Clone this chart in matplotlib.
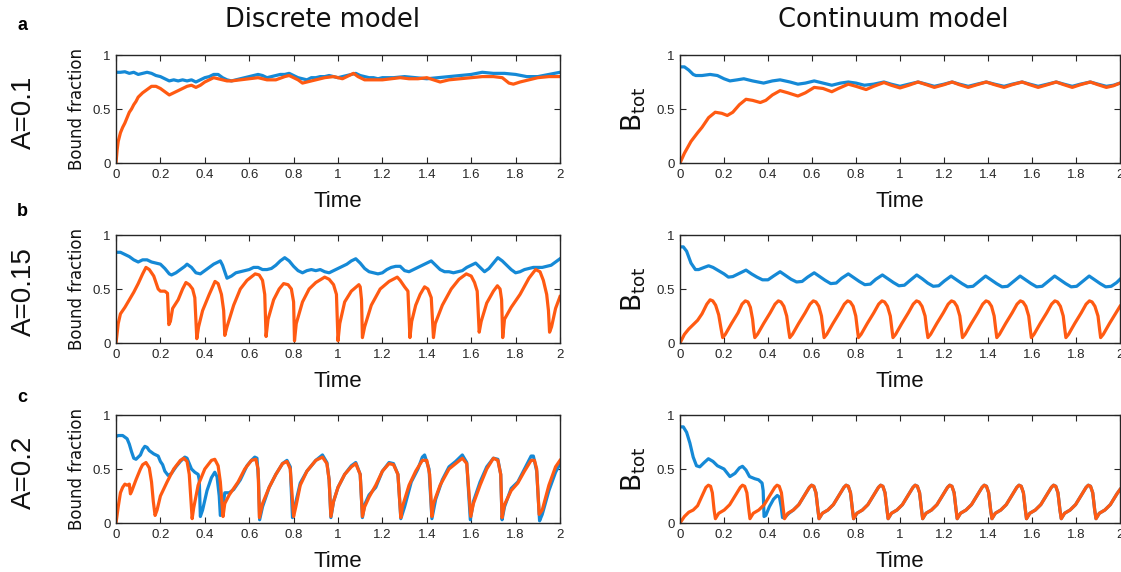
import numpy as np
import matplotlib
matplotlib.use('Agg')
import matplotlib.pyplot as plt

BLUE = '#1589d6'
ORANGE = '#ff5a12'

# ---- data: (time, value) pairs ----
a_disc_blue = [(0,0.84),(0.02,0.84),(0.04,0.845),(0.06,0.83),(0.08,0.84),(0.1,0.82),(0.12,0.83),(0.14,0.84),(0.16,0.83),(0.18,0.81),
    (0.2,0.80),(0.22,0.78),(0.24,0.76),(0.26,0.77),(0.28,0.76),(0.3,0.77),(0.32,0.76),(0.34,0.77),(0.36,0.75),(0.38,0.77),
    (0.4,0.79),(0.42,0.80),(0.44,0.82),(0.46,0.82),(0.48,0.79),(0.5,0.77),(0.52,0.76),(0.54,0.77),(0.56,0.78),(0.58,0.79),
    (0.6,0.80),(0.62,0.81),(0.64,0.82),(0.66,0.81),(0.68,0.79),(0.7,0.80),(0.72,0.81),(0.74,0.82),(0.76,0.82),(0.78,0.83),
    (0.8,0.81),(0.82,0.79),(0.84,0.78),(0.86,0.77),(0.88,0.79),(0.9,0.79),(0.92,0.80),(0.94,0.80),(0.96,0.81),(0.98,0.80),
    (1.0,0.79),(1.02,0.80),(1.04,0.81),(1.06,0.82),(1.08,0.83),(1.1,0.81),(1.12,0.80),(1.14,0.79),(1.16,0.79),(1.18,0.78),
    (1.2,0.79),(1.25,0.79),(1.3,0.80),(1.35,0.79),(1.4,0.78),(1.45,0.79),(1.5,0.80),(1.55,0.81),(1.6,0.82),(1.65,0.84),
    (1.7,0.83),(1.75,0.83),(1.8,0.82),(1.85,0.80),(1.9,0.80),(1.95,0.82),(2.0,0.84)]
a_disc_orange = [(0,0.0),(0.005,0.12),(0.01,0.2),(0.02,0.28),(0.03,0.33),(0.04,0.37),(0.05,0.42),(0.06,0.47),(0.07,0.50),(0.08,0.54),
    (0.09,0.57),(0.1,0.61),(0.12,0.65),(0.14,0.68),(0.16,0.71),(0.18,0.71),(0.2,0.69),(0.22,0.66),(0.24,0.63),(0.26,0.65),
    (0.28,0.67),(0.3,0.69),(0.32,0.71),(0.34,0.72),(0.36,0.70),(0.38,0.72),(0.4,0.75),(0.42,0.77),(0.44,0.79),(0.46,0.78),
    (0.48,0.77),(0.5,0.76),(0.52,0.76),(0.56,0.77),(0.6,0.78),(0.64,0.79),(0.68,0.77),(0.72,0.77),(0.76,0.80),(0.78,0.81),
    (0.8,0.79),(0.82,0.77),(0.84,0.74),(0.86,0.75),(0.9,0.77),(0.94,0.79),(0.98,0.80),(1.02,0.78),(1.05,0.81),(1.07,0.83),
    (1.09,0.80),(1.12,0.77),(1.16,0.77),(1.2,0.77),(1.24,0.78),(1.28,0.79),(1.32,0.78),(1.36,0.78),(1.4,0.79),(1.43,0.77),
    (1.46,0.75),(1.5,0.77),(1.55,0.78),(1.6,0.79),(1.65,0.80),(1.7,0.80),(1.74,0.79),(1.77,0.74),(1.79,0.73),(1.82,0.75),
    (1.86,0.77),(1.9,0.79),(1.95,0.80),(2.0,0.80)]

a_cont_blue = [(0,0.89),(0.02,0.89),(0.04,0.86),(0.06,0.82),(0.072,0.81),(0.1,0.81),(0.137,0.82),(0.17,0.81),(0.2,0.78),(0.227,0.76),
    (0.26,0.77),(0.29,0.78),(0.33,0.76),(0.38,0.74),(0.42,0.76),(0.455,0.77),(0.5,0.75),(0.536,0.73),(0.57,0.74),(0.61,0.76),
    (0.65,0.74),(0.69,0.72),(0.73,0.74),(0.765,0.75),(0.8,0.74),(0.838,0.72),(0.88,0.73),(0.927,0.75),(0.96,0.73),(1.0,0.71),
    (1.04,0.73),(1.082,0.75),(1.12,0.73),(1.156,0.71),(1.2,0.73),(1.237,0.75),(1.27,0.73),(1.31,0.71),(1.35,0.73),(1.392,0.75),
    (1.43,0.73),(1.473,0.71),(1.51,0.73),(1.555,0.75),(1.59,0.73),(1.628,0.71),(1.67,0.73),(1.71,0.75),(1.745,0.73),(1.783,0.71),
    (1.82,0.73),(1.865,0.75),(1.9,0.73),(1.938,0.71),(1.97,0.72),(2.0,0.74)]
a_cont_orange = [(0,0.0),(0.02,0.09),(0.05,0.20),(0.08,0.28),(0.1,0.33),(0.13,0.42),(0.16,0.47),(0.19,0.46),(0.215,0.44),(0.24,0.47),
    (0.27,0.54),(0.3,0.59),(0.33,0.58),(0.365,0.56),(0.39,0.58),(0.42,0.63),(0.455,0.67),(0.49,0.65),(0.536,0.62),(0.57,0.65),
    (0.61,0.70),(0.65,0.69),(0.69,0.66),(0.72,0.69),(0.765,0.73),(0.8,0.71),(0.846,0.68),(0.88,0.71),(0.927,0.745),(0.96,0.72),
    (1.0,0.695),(1.04,0.72),(1.082,0.75),(1.12,0.725),(1.156,0.70),(1.2,0.725),(1.237,0.75),(1.27,0.725),(1.31,0.70),(1.35,0.725),
    (1.392,0.75),(1.43,0.725),(1.473,0.70),(1.51,0.725),(1.555,0.75),(1.59,0.725),(1.628,0.70),(1.67,0.725),(1.71,0.75),(1.745,0.725),
    (1.783,0.70),(1.82,0.725),(1.865,0.75),(1.9,0.725),(1.938,0.70),(1.97,0.715),(2.0,0.74)]

b_disc_blue = [(0,0.84),(0.02,0.84),(0.04,0.82),(0.06,0.80),(0.08,0.77),(0.1,0.75),(0.12,0.77),(0.14,0.77),(0.16,0.75),(0.18,0.74),
    (0.2,0.73),(0.22,0.69),(0.24,0.64),(0.25,0.63),(0.27,0.65),(0.29,0.68),(0.31,0.71),(0.32,0.73),(0.34,0.70),(0.36,0.65),
    (0.38,0.64),(0.4,0.67),(0.42,0.70),(0.44,0.73),(0.47,0.76),(0.48,0.72),(0.5,0.60),(0.52,0.62),(0.54,0.65),(0.56,0.66),
    (0.58,0.67),(0.6,0.68),(0.62,0.70),(0.64,0.70),(0.66,0.68),(0.68,0.68),(0.7,0.69),(0.72,0.72),(0.74,0.76),(0.76,0.79),
    (0.78,0.76),(0.8,0.71),(0.82,0.67),(0.84,0.65),(0.86,0.67),(0.88,0.68),(0.9,0.67),(0.92,0.68),(0.94,0.66),(0.96,0.65),
    (0.98,0.67),(1.0,0.69),(1.02,0.71),(1.04,0.73),(1.06,0.76),(1.08,0.78),(1.1,0.74),(1.12,0.69),(1.14,0.66),(1.16,0.65),
    (1.18,0.64),(1.2,0.65),(1.22,0.68),(1.24,0.70),(1.26,0.71),(1.28,0.71),(1.3,0.67),(1.32,0.66),(1.34,0.68),(1.36,0.70),
    (1.38,0.72),(1.4,0.74),(1.42,0.76),(1.44,0.72),(1.46,0.68),(1.48,0.66),(1.5,0.66),(1.52,0.65),(1.54,0.66),(1.56,0.67),
    (1.58,0.70),(1.6,0.72),(1.62,0.74),(1.64,0.70),(1.66,0.66),(1.68,0.69),(1.7,0.74),(1.72,0.79),(1.74,0.76),(1.76,0.72),
    (1.78,0.68),(1.8,0.65),(1.82,0.66),(1.84,0.68),(1.86,0.69),(1.88,0.70),(1.9,0.70),(1.92,0.70),(1.94,0.71),(1.96,0.72),
    (1.98,0.75),(2.0,0.78)]
b_disc_orange = [(0,0.0),(0.01,0.18),(0.02,0.27),(0.04,0.33),(0.06,0.40),(0.08,0.47),(0.1,0.55),(0.12,0.64),(0.135,0.70),(0.15,0.68),
    (0.17,0.62),(0.19,0.50),(0.2,0.48),(0.22,0.48),(0.232,0.46),(0.238,0.17),(0.245,0.20),(0.255,0.32),(0.28,0.40),(0.3,0.50),
    (0.315,0.56),(0.33,0.54),(0.345,0.50),(0.355,0.42),(0.364,0.04),(0.372,0.15),(0.39,0.30),(0.42,0.45),(0.446,0.57),(0.46,0.55),
    (0.475,0.45),(0.485,0.30),(0.49,0.07),(0.5,0.15),(0.53,0.35),(0.56,0.50),(0.59,0.58),(0.627,0.64),(0.645,0.63),(0.66,0.58),
    (0.67,0.45),(0.676,0.06),(0.685,0.22),(0.71,0.40),(0.735,0.50),(0.755,0.55),(0.775,0.54),(0.79,0.50),(0.8,0.38),(0.804,0.02),
    (0.812,0.18),(0.84,0.38),(0.87,0.50),(0.9,0.56),(0.94,0.61),(0.96,0.59),(0.98,0.54),(0.993,0.45),(1.0,0.02),(1.008,0.18),
    (1.03,0.38),(1.06,0.48),(1.094,0.54),(1.1,0.52),(1.106,0.40),(1.11,0.05),(1.12,0.15),(1.15,0.35),(1.19,0.50),(1.23,0.57),
    (1.267,0.61),(1.28,0.58),(1.3,0.52),(1.315,0.48),(1.324,0.05),(1.332,0.20),(1.35,0.35),(1.37,0.45),(1.39,0.52),(1.405,0.50),
    (1.42,0.42),(1.43,0.05),(1.438,0.18),(1.47,0.35),(1.51,0.50),(1.545,0.59),(1.578,0.64),(1.6,0.62),(1.615,0.56),(1.627,0.48),
    (1.636,0.10),(1.645,0.20),(1.67,0.37),(1.7,0.48),(1.718,0.53),(1.73,0.50),(1.737,0.40),(1.742,0.05),(1.75,0.22),(1.78,0.33),
    (1.82,0.45),(1.86,0.60),(1.89,0.68),(1.91,0.66),(1.925,0.58),(1.94,0.45),(1.948,0.30),(1.953,0.10),(1.962,0.15),(1.98,0.32),
    (2.0,0.43)]

b_cont_blue = [(0,0.89),(0.015,0.89),(0.03,0.85),(0.05,0.74),(0.07,0.68),(0.085,0.68),(0.11,0.70),(0.13,0.715),(0.15,0.70),(0.175,0.67),
    (0.2,0.64),(0.22,0.61),(0.24,0.615),(0.27,0.645),(0.3,0.675),(0.325,0.64),(0.35,0.61),(0.375,0.585),(0.4,0.585),(0.425,0.62),
    (0.455,0.66),(0.48,0.625),(0.505,0.59),(0.53,0.565),(0.555,0.57),(0.58,0.61),(0.61,0.65),(0.635,0.615),(0.66,0.58),(0.685,0.55),
    (0.71,0.555),(0.735,0.60),(0.765,0.64),(0.79,0.605),(0.815,0.57),(0.84,0.54),(0.865,0.545),(0.89,0.59),(0.92,0.63),(0.945,0.595),
    (0.97,0.56),(0.995,0.53),(1.02,0.535),(1.046,0.58),(1.076,0.63),(1.101,0.595),(1.126,0.555),(1.151,0.525),(1.176,0.53),(1.202,0.575),
    (1.232,0.62),(1.257,0.585),(1.282,0.55),(1.307,0.52),(1.332,0.525),(1.359,0.57),(1.389,0.62),(1.414,0.585),(1.439,0.55),(1.464,0.52),
    (1.489,0.525),(1.516,0.57),(1.546,0.62),(1.571,0.585),(1.596,0.55),(1.621,0.52),(1.646,0.525),(1.673,0.57),(1.703,0.62),(1.728,0.585),
    (1.753,0.55),(1.778,0.52),(1.803,0.525),(1.83,0.57),(1.86,0.62),(1.885,0.585),(1.91,0.55),(1.935,0.52),(1.96,0.525),(1.985,0.56),
    (2.0,0.59)]
b_cont_orange = [(0,0.0),(0.02,0.08),(0.04,0.13),(0.06,0.17),(0.08,0.21),(0.1,0.27),(0.122,0.36),(0.137,0.40),(0.149,0.39),(0.162,0.35),
    (0.176,0.26),(0.186,0.14),(0.194,0.05),
    (0.206,0.08),(0.234,0.18),(0.264,0.28),(0.282,0.36),(0.297,0.39),(0.309,0.38),(0.32,0.33),(0.33,0.22),(0.335,0.12),(0.34,0.05),
    (0.352,0.08),(0.38,0.18),(0.41,0.28),(0.432,0.36),(0.447,0.39),(0.459,0.38),(0.472,0.34),(0.485,0.25),(0.493,0.13),(0.499,0.05),
    (0.511,0.08),(0.539,0.18),(0.569,0.28),(0.591,0.36),(0.606,0.39),(0.618,0.38),(0.631,0.34),(0.643,0.25),(0.65,0.13),(0.655,0.05),
    (0.667,0.08),(0.695,0.18),(0.725,0.28),(0.747,0.36),(0.762,0.39),(0.774,0.38),(0.787,0.34),(0.799,0.25),(0.806,0.13),(0.811,0.05),
    (0.823,0.08),(0.851,0.18),(0.881,0.28),(0.903,0.36),(0.918,0.39),(0.93,0.38),(0.943,0.34),(0.956,0.25),(0.963,0.13),(0.968,0.05),
    (0.98,0.08),(1.008,0.18),(1.038,0.28),(1.06,0.36),(1.075,0.39),(1.087,0.38),(1.1,0.34),(1.114,0.25),(1.121,0.13),(1.127,0.05),
    (1.139,0.08),(1.167,0.18),(1.197,0.28),(1.219,0.36),(1.234,0.39),(1.246,0.38),(1.259,0.34),(1.272,0.25),(1.279,0.13),(1.284,0.05),
    (1.296,0.08),(1.324,0.18),(1.354,0.28),(1.376,0.36),(1.391,0.39),(1.403,0.38),(1.416,0.34),(1.428,0.25),(1.435,0.13),(1.44,0.05),
    (1.452,0.08),(1.48,0.18),(1.51,0.28),(1.532,0.36),(1.547,0.39),(1.559,0.38),(1.572,0.34),(1.585,0.25),(1.592,0.13),(1.597,0.05),
    (1.609,0.08),(1.637,0.18),(1.667,0.28),(1.689,0.36),(1.704,0.39),(1.716,0.38),(1.729,0.34),(1.742,0.25),(1.749,0.13),(1.754,0.05),
    (1.766,0.08),(1.794,0.18),(1.824,0.28),(1.846,0.36),(1.861,0.39),(1.873,0.38),(1.886,0.34),(1.9,0.25),(1.907,0.13),(1.912,0.05),
    (1.924,0.08),(1.952,0.18),(1.982,0.28),(2.0,0.34)]

c_disc_blue = [(0,0.80),(0.01,0.81),(0.03,0.81),(0.05,0.78),(0.06,0.73),(0.07,0.66),(0.08,0.60),(0.09,0.59),(0.11,0.63),(0.12,0.68),
    (0.13,0.71),(0.14,0.70),(0.15,0.67),(0.17,0.64),(0.19,0.62),(0.2,0.57),(0.21,0.54),(0.22,0.48),(0.235,0.44),(0.25,0.46),
    (0.27,0.52),(0.29,0.57),(0.31,0.61),(0.32,0.60),(0.33,0.55),(0.34,0.50),(0.355,0.47),(0.37,0.45),(0.375,0.40),(0.38,0.06),
    (0.39,0.12),(0.41,0.30),(0.43,0.42),(0.445,0.47),(0.455,0.43),(0.465,0.25),(0.47,0.07),(0.48,0.12),(0.49,0.28),(0.51,0.28),
    (0.53,0.31),(0.56,0.40),(0.59,0.53),(0.61,0.58),(0.625,0.61),(0.635,0.60),(0.642,0.40),(0.647,0.03),(0.66,0.15),(0.69,0.33),
    (0.72,0.45),(0.75,0.55),(0.77,0.58),(0.785,0.52),(0.795,0.05),(0.805,0.15),(0.83,0.37),(0.86,0.48),(0.9,0.58),(0.93,0.63),
    (0.95,0.56),(0.96,0.40),(0.968,0.05),(0.98,0.20),(1.0,0.33),(1.03,0.45),(1.06,0.53),(1.08,0.56),(1.1,0.45),(1.11,0.05),
    (1.12,0.17),(1.14,0.26),(1.17,0.33),(1.2,0.48),(1.23,0.56),(1.25,0.55),(1.27,0.45),(1.283,0.04),(1.3,0.15),(1.33,0.38),
    (1.36,0.50),(1.38,0.61),(1.39,0.63),(1.41,0.50),(1.423,0.04),(1.44,0.22),(1.47,0.40),(1.5,0.52),(1.53,0.57),(1.56,0.63),
    (1.58,0.56),(1.596,0.03),(1.61,0.20),(1.64,0.38),(1.67,0.52),(1.7,0.60),(1.72,0.59),(1.733,0.45),(1.739,0.03),(1.75,0.15),
    (1.78,0.32),(1.81,0.38),(1.84,0.50),(1.87,0.62),(1.88,0.62),(1.895,0.48),(1.908,0.02),(1.92,0.08),(1.95,0.30),(1.98,0.47),
    (2.0,0.55)]
c_disc_orange = [(0,0.0),(0.01,0.15),(0.02,0.28),(0.03,0.33),(0.04,0.36),(0.05,0.35),(0.06,0.36),(0.065,0.27),(0.07,0.29),(0.09,0.40),
    (0.11,0.50),(0.12,0.54),(0.135,0.56),(0.15,0.51),(0.16,0.38),(0.168,0.20),(0.176,0.07),(0.185,0.12),(0.2,0.25),(0.23,0.38),
    (0.26,0.50),(0.29,0.58),(0.305,0.60),(0.32,0.57),(0.33,0.45),(0.338,0.20),(0.343,0.04),(0.35,0.14),(0.37,0.35),(0.4,0.50),
    (0.43,0.58),(0.445,0.59),(0.46,0.53),(0.47,0.38),(0.482,0.06),(0.49,0.18),(0.51,0.26),(0.55,0.38),(0.58,0.50),(0.61,0.58),
    (0.63,0.59),(0.64,0.50),(0.646,0.05),(0.66,0.18),(0.69,0.33),(0.72,0.45),(0.75,0.55),(0.77,0.57),(0.785,0.50),(0.8,0.06),
    (0.81,0.15),(0.83,0.35),(0.86,0.48),(0.9,0.58),(0.93,0.61),(0.95,0.55),(0.96,0.40),(0.968,0.06),(0.98,0.20),(1.0,0.33),
    (1.03,0.45),(1.06,0.52),(1.08,0.55),(1.1,0.45),(1.11,0.06),(1.12,0.15),(1.14,0.24),(1.17,0.35),(1.2,0.48),(1.23,0.55),
    (1.25,0.54),(1.27,0.45),(1.283,0.05),(1.29,0.15),(1.32,0.35),(1.35,0.48),(1.38,0.58),(1.40,0.58),(1.413,0.45),(1.423,0.06),
    (1.43,0.18),(1.46,0.35),(1.5,0.50),(1.53,0.55),(1.56,0.60),(1.58,0.55),(1.598,0.06),(1.61,0.18),(1.64,0.35),(1.67,0.50),
    (1.7,0.60),(1.72,0.58),(1.733,0.45),(1.739,0.05),(1.75,0.17),(1.78,0.30),(1.81,0.37),(1.84,0.48),(1.87,0.58),(1.885,0.58),
    (1.895,0.50),(1.906,0.08),(1.92,0.12),(1.95,0.35),(1.98,0.52),(2.0,0.58)]

c_cont_orange = [(0,0.0),(0.02,0.06),(0.04,0.10),(0.06,0.12),(0.08,0.16),(0.1,0.25),(0.118,0.33),(0.129,0.35),(0.139,0.34),(0.147,0.28),
    (0.155,0.12),(0.161,0.04),
    (0.176,0.09),(0.201,0.12),(0.226,0.17),(0.256,0.27),(0.274,0.33),(0.284,0.35),(0.294,0.34),(0.304,0.28),(0.313,0.12),(0.318,0.04),
    (0.333,0.09),(0.358,0.12),(0.383,0.17),(0.413,0.27),(0.431,0.33),(0.441,0.35),(0.451,0.34),(0.461,0.28),(0.47,0.12),(0.475,0.04),
    (0.49,0.09),(0.515,0.12),(0.54,0.17),(0.57,0.27),(0.588,0.33),(0.598,0.35),(0.608,0.34),(0.618,0.28),(0.627,0.12),(0.632,0.04),
    (0.647,0.09),(0.672,0.12),(0.697,0.17),(0.727,0.27),(0.745,0.33),(0.755,0.35),(0.765,0.34),(0.775,0.28),(0.784,0.12),(0.789,0.04),
    (0.804,0.09),(0.829,0.12),(0.854,0.17),(0.884,0.27),(0.902,0.33),(0.912,0.35),(0.922,0.34),(0.932,0.28),(0.941,0.12),(0.946,0.04),
    (0.961,0.09),(0.986,0.12),(1.011,0.17),(1.041,0.27),(1.059,0.33),(1.069,0.35),(1.079,0.34),(1.089,0.28),(1.098,0.12),(1.103,0.04),
    (1.118,0.09),(1.143,0.12),(1.168,0.17),(1.198,0.27),(1.216,0.33),(1.226,0.35),(1.236,0.34),(1.246,0.28),(1.255,0.12),(1.26,0.04),
    (1.275,0.09),(1.3,0.12),(1.325,0.17),(1.355,0.27),(1.373,0.33),(1.383,0.35),(1.393,0.34),(1.403,0.28),(1.412,0.12),(1.418,0.04),
    (1.433,0.09),(1.458,0.12),(1.483,0.17),(1.513,0.27),(1.531,0.33),(1.541,0.35),(1.551,0.34),(1.561,0.28),(1.57,0.12),(1.575,0.04),
    (1.59,0.09),(1.615,0.12),(1.64,0.17),(1.67,0.27),(1.688,0.33),(1.698,0.35),(1.708,0.34),(1.718,0.28),(1.727,0.12),(1.733,0.04),
    (1.748,0.09),(1.773,0.12),(1.798,0.17),(1.828,0.27),(1.846,0.33),(1.856,0.35),(1.866,0.34),(1.876,0.28),(1.885,0.12),(1.891,0.04),
    (1.906,0.09),(1.931,0.12),(1.956,0.17),(1.986,0.27),(2.0,0.31)]
# blue continuum curve in c: own start, afterwards it sits under the orange one
c_cont_blue_head = [(0,0.89),(0.015,0.89),(0.03,0.84),(0.045,0.74),(0.06,0.61),(0.075,0.53),(0.09,0.52),(0.11,0.56),(0.129,0.595),(0.15,0.57),
    (0.17,0.53),(0.2,0.50),(0.227,0.43),(0.25,0.46),(0.27,0.51),(0.284,0.525),(0.3,0.49),(0.316,0.43),(0.34,0.41),(0.357,0.40),
    (0.373,0.37),(0.378,0.30),(0.382,0.06),(0.39,0.07),(0.406,0.15),(0.425,0.22),(0.442,0.255),(0.452,0.24),(0.46,0.15),(0.466,0.05),
    (0.475,0.05),(0.495,0.09),(0.515,0.12),(0.54,0.17)]
c_cont_blue = c_cont_blue_head + [p for p in c_cont_orange if p[0] > 0.55]

xticks = [0, 0.2, 0.4, 0.6, 0.8, 1.0, 1.2, 1.4, 1.6, 1.8, 2.0]
xtick_labels = ['0', '0.2', '0.4', '0.6', '0.8', '1', '1.2', '1.4', '1.6', '1.8', '2']
yticks = [0, 0.5, 1]
ytick_labels = ['0', '0.5', '1']

rows = [
    (a_disc_blue, a_disc_orange, a_cont_blue, a_cont_orange),
    (b_disc_blue, b_disc_orange, b_cont_blue, b_cont_orange),
    (c_disc_blue, c_disc_orange, c_cont_blue, c_cont_orange),
]
row_letters = ['a', 'b', 'c']
row_A = ['A=0.1', 'A=0.15', 'A=0.2']

plt.rcParams['font.family'] = 'DejaVu Sans'
fig = plt.figure(figsize=(11.21, 5.72), dpi=100)
W, H = 1121.0, 572.0

row_tops = [55, 235, 415]
ax_h = 108


def style(ax):
    ax.set_xlim(0, 2)
    ax.set_ylim(0, 1)
    ax.set_xticks(xticks)
    ax.set_xticklabels(xtick_labels, fontfamily='Liberation Sans', fontsize=9.5)
    ax.set_yticks(yticks)
    ax.set_yticklabels(ytick_labels, fontfamily='Liberation Sans', fontsize=9.5)
    ax.tick_params(direction='in', top=True, right=True, length=4, width=0.8,
                   color='#262626', labelcolor='#262626', pad=4)
    for s in ax.spines.values():
        s.set_linewidth(1.0)
        s.set_color('#262626')
    ax.set_xlabel('Time', fontfamily='Liberation Sans', fontsize=16, color='#111111')
    ax.xaxis.set_label_coords(0.5, -0.26)


for i, (db, do, cb, co) in enumerate(rows):
    top = row_tops[i]
    bottom = 1 - (top + ax_h) / H
    axl = fig.add_axes([116 / W, bottom, 444 / W, ax_h / H])
    axr = fig.add_axes([680 / W, bottom, 440 / W, ax_h / H])
    for ax, blue, orange in ((axl, db, do), (axr, cb, co)):
        bt, bv = np.array(blue).T
        ot, ov = np.array(orange).T
        ax.plot(bt, bv, color=BLUE, lw=2.3, solid_joinstyle='round')
        ax.plot(ot, ov, color=ORANGE, lw=2.3, solid_joinstyle='round')
        style(ax)
    axl.set_ylabel('Bound fraction', fontsize=12, color='#111111')
    axl.yaxis.set_label_coords(-0.068, 0.5)
    axr.set_ylabel(r'$\mathrm{B}_{\mathrm{tot}}$', fontsize=19, color='#111111')
    axr.yaxis.set_label_coords(-0.072, 0.5)

    fig.text(22 / W, 1 - [25, 212, 398][i] / H, row_letters[i], fontsize=13,
             fontweight='bold', fontfamily='Liberation Sans', ha='center', va='center')
    fig.text(24 / W, 1 - (top + ax_h / 2 + 3) / H, row_A[i], fontsize=20, rotation=90,
             fontfamily='Liberation Sans', ha='center', va='center', color='#111111')

fig.text(322 / W, 1 - 20 / H, 'Discrete model', fontsize=18.5, ha='center', va='center', color='#111111')
fig.text(893 / W, 1 - 20 / H, 'Continuum model', fontsize=18.5, ha='center', va='center', color='#111111')

fig.savefig('out.png', dpi=100)
